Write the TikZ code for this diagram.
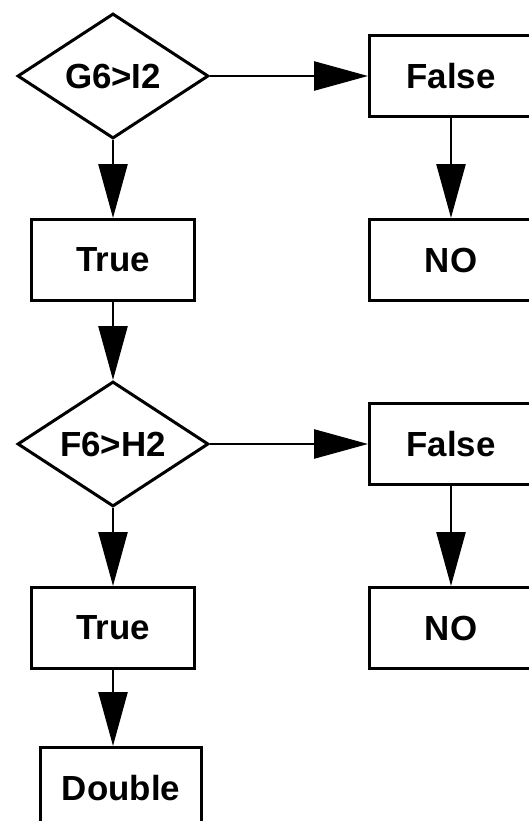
\documentclass[tikz,border=0pt]{standalone}
\usepackage{fontspec}
\setmainfont{Liberation Sans}
\usetikzlibrary{shapes.geometric,arrows.meta}
\tikzset{
  box/.style={draw=black, line width=3bp, minimum width=163bp, minimum height=81bp, inner sep=0pt, font=\bfseries\fontsize{35}{40}\selectfont},
  test/.style={draw=black, diamond, aspect=1.5, line width=3bp, minimum width=191bp, minimum height=125bp, inner sep=0pt, font=\bfseries\fontsize{35}{40}\selectfont},
  flow/.style={draw=black, line width=2.6bp, -{Triangle[length=54bp,width=29bp]}},
}

\begin{document}
\begin{tikzpicture}[x=1bp, y=-1bp]
  \useasboundingbox (0,0) rectangle (529,821);
  \clip (0,0) rectangle (529,821);
  % first test
  \node[test] (D1) at (113,76) {G6>I2};
  \node[box] (F1) at (451,76) {False};
  \node[box] (T1) at (113,260) {True};
  \node[box] (N1) at (451,260) {NO};
  % second test
  \node[test] (D2) at (113,444) {F6>H2};
  \node[box] (F2) at (451,444) {False};
  \node[box] (T2) at (113,628) {True};
  \node[box] (N2) at (451,628) {NO};
  \node[box, minimum width=160bp] (Db) at (121,788) {Double};
  \draw[flow] (D1.east) -- (F1.west);
  \draw[flow] (D1.south) -- (T1.north);
  \draw[flow] (F1.south) -- (N1.north);
  \draw[flow] (T1.south) -- (D2.north);
  \draw[flow] (D2.east) -- (F2.west);
  \draw[flow] (D2.south) -- (T2.north);
  \draw[flow] (F2.south) -- (N2.north);
  \draw[flow] (T2.south) -- (T2.south |- Db.north);
\end{tikzpicture}
\end{document}
